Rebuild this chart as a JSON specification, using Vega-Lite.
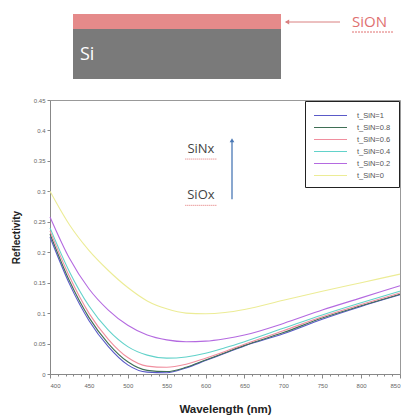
{
  "$schema": "https://vega.github.io/schema/vega-lite/v6.json",
  "padding": {"left": 10, "top": 5, "right": 2, "bottom": 3},
  "spacing": 1,
  "background": "white",
  "config": {"font": "Liberation Sans"},
  "resolve": {"scale": {"color": "independent", "x": "independent", "y": "independent"}},
  "datasets": {
    "refl": [
      {"wl":400,"R":0.225,"s":"t_SiN=1"},{"wl":425,"R":0.148,"s":"t_SiN=1"},{"wl":450,"R":0.088,"s":"t_SiN=1"},{"wl":475,"R":0.045,"s":"t_SiN=1"},{"wl":500,"R":0.015,"s":"t_SiN=1"},{"wl":525,"R":0.003,"s":"t_SiN=1"},{"wl":550,"R":0.002,"s":"t_SiN=1"},{"wl":575,"R":0.010,"s":"t_SiN=1"},{"wl":600,"R":0.022,"s":"t_SiN=1"},{"wl":625,"R":0.034,"s":"t_SiN=1"},{"wl":650,"R":0.046,"s":"t_SiN=1"},{"wl":700,"R":0.066,"s":"t_SiN=1"},{"wl":750,"R":0.090,"s":"t_SiN=1"},{"wl":800,"R":0.111,"s":"t_SiN=1"},{"wl":850,"R":0.130,"s":"t_SiN=1"},
      {"wl":400,"R":0.230,"s":"t_SiN=0.8"},{"wl":425,"R":0.153,"s":"t_SiN=0.8"},{"wl":450,"R":0.093,"s":"t_SiN=0.8"},{"wl":475,"R":0.050,"s":"t_SiN=0.8"},{"wl":500,"R":0.020,"s":"t_SiN=0.8"},{"wl":525,"R":0.006,"s":"t_SiN=0.8"},{"wl":550,"R":0.004,"s":"t_SiN=0.8"},{"wl":575,"R":0.011,"s":"t_SiN=0.8"},{"wl":600,"R":0.023,"s":"t_SiN=0.8"},{"wl":625,"R":0.035,"s":"t_SiN=0.8"},{"wl":650,"R":0.047,"s":"t_SiN=0.8"},{"wl":700,"R":0.068,"s":"t_SiN=0.8"},{"wl":750,"R":0.092,"s":"t_SiN=0.8"},{"wl":800,"R":0.112,"s":"t_SiN=0.8"},{"wl":850,"R":0.131,"s":"t_SiN=0.8"},
      {"wl":400,"R":0.235,"s":"t_SiN=0.6"},{"wl":425,"R":0.160,"s":"t_SiN=0.6"},{"wl":450,"R":0.100,"s":"t_SiN=0.6"},{"wl":475,"R":0.057,"s":"t_SiN=0.6"},{"wl":500,"R":0.027,"s":"t_SiN=0.6"},{"wl":525,"R":0.013,"s":"t_SiN=0.6"},{"wl":550,"R":0.011,"s":"t_SiN=0.6"},{"wl":575,"R":0.016,"s":"t_SiN=0.6"},{"wl":600,"R":0.026,"s":"t_SiN=0.6"},{"wl":625,"R":0.037,"s":"t_SiN=0.6"},{"wl":650,"R":0.049,"s":"t_SiN=0.6"},{"wl":700,"R":0.071,"s":"t_SiN=0.6"},{"wl":750,"R":0.094,"s":"t_SiN=0.6"},{"wl":800,"R":0.114,"s":"t_SiN=0.6"},{"wl":850,"R":0.133,"s":"t_SiN=0.6"},
      {"wl":400,"R":0.240,"s":"t_SiN=0.4"},{"wl":425,"R":0.168,"s":"t_SiN=0.4"},{"wl":450,"R":0.112,"s":"t_SiN=0.4"},{"wl":475,"R":0.072,"s":"t_SiN=0.4"},{"wl":500,"R":0.045,"s":"t_SiN=0.4"},{"wl":525,"R":0.031,"s":"t_SiN=0.4"},{"wl":550,"R":0.026,"s":"t_SiN=0.4"},{"wl":575,"R":0.028,"s":"t_SiN=0.4"},{"wl":600,"R":0.034,"s":"t_SiN=0.4"},{"wl":625,"R":0.043,"s":"t_SiN=0.4"},{"wl":650,"R":0.053,"s":"t_SiN=0.4"},{"wl":700,"R":0.075,"s":"t_SiN=0.4"},{"wl":750,"R":0.097,"s":"t_SiN=0.4"},{"wl":800,"R":0.117,"s":"t_SiN=0.4"},{"wl":850,"R":0.136,"s":"t_SiN=0.4"},
      {"wl":400,"R":0.258,"s":"t_SiN=0.2"},{"wl":425,"R":0.190,"s":"t_SiN=0.2"},{"wl":450,"R":0.140,"s":"t_SiN=0.2"},{"wl":475,"R":0.105,"s":"t_SiN=0.2"},{"wl":500,"R":0.080,"s":"t_SiN=0.2"},{"wl":525,"R":0.064,"s":"t_SiN=0.2"},{"wl":550,"R":0.056,"s":"t_SiN=0.2"},{"wl":575,"R":0.053,"s":"t_SiN=0.2"},{"wl":600,"R":0.054,"s":"t_SiN=0.2"},{"wl":625,"R":0.058,"s":"t_SiN=0.2"},{"wl":650,"R":0.064,"s":"t_SiN=0.2"},{"wl":700,"R":0.083,"s":"t_SiN=0.2"},{"wl":750,"R":0.105,"s":"t_SiN=0.2"},{"wl":800,"R":0.125,"s":"t_SiN=0.2"},{"wl":850,"R":0.145,"s":"t_SiN=0.2"},
      {"wl":400,"R":0.300,"s":"t_SiN=0"},{"wl":425,"R":0.245,"s":"t_SiN=0"},{"wl":450,"R":0.203,"s":"t_SiN=0"},{"wl":475,"R":0.170,"s":"t_SiN=0"},{"wl":500,"R":0.142,"s":"t_SiN=0"},{"wl":525,"R":0.120,"s":"t_SiN=0"},{"wl":550,"R":0.107,"s":"t_SiN=0"},{"wl":575,"R":0.100,"s":"t_SiN=0"},{"wl":600,"R":0.099,"s":"t_SiN=0"},{"wl":625,"R":0.101,"s":"t_SiN=0"},{"wl":650,"R":0.106,"s":"t_SiN=0"},{"wl":700,"R":0.121,"s":"t_SiN=0"},{"wl":750,"R":0.136,"s":"t_SiN=0"},{"wl":800,"R":0.150,"s":"t_SiN=0"},{"wl":850,"R":0.164,"s":"t_SiN=0"}
    ]
  },
  "vconcat": [
    {
      "width": 350,
      "height": 90,
      "view": {"stroke": null},
      "layer": [
        {
          "data": {"values": [{"layer": "SiON", "x1": 23, "x2": 231, "y1": 66, "y2": 81}]},
          "mark": {"type": "rect", "color": "#e58a8a"},
          "encoding": {
            "x": {"field": "x1", "type": "quantitative", "scale": {"domain": [0, 350]}, "axis": null},
            "x2": {"field": "x2"},
            "y": {"field": "y1", "type": "quantitative", "scale": {"domain": [0, 90]}, "axis": null},
            "y2": {"field": "y2"}
          }
        },
        {
          "data": {"values": [{"layer": "Si", "x1": 23, "x2": 231, "y1": 16, "y2": 66}]},
          "mark": {"type": "rect", "color": "#7a7a7a"},
          "encoding": {
            "x": {"field": "x1", "type": "quantitative"},
            "x2": {"field": "x2"},
            "y": {"field": "y1", "type": "quantitative"},
            "y2": {"field": "y2"}
          }
        },
        {
          "data": {"values": [{"label": "Si", "x": 30, "y": 40}]},
          "mark": {"type": "text", "align": "left", "baseline": "middle", "color": "white", "fontSize": 18, "font": "Open Sans"},
          "encoding": {
            "x": {"field": "x", "type": "quantitative"},
            "y": {"field": "y", "type": "quantitative"},
            "text": {"field": "label"}
          }
        },
        {
          "data": {"values": [{"x": 236, "x2": 290, "y": 73}]},
          "mark": {"type": "rule", "color": "#d98080", "strokeWidth": 1},
          "encoding": {
            "x": {"field": "x", "type": "quantitative"},
            "x2": {"field": "x2"},
            "y": {"field": "y", "type": "quantitative"}
          }
        },
        {
          "data": {"values": [{"x": 237, "y": 73}]},
          "mark": {"type": "point", "shape": "triangle-left", "filled": true, "size": 25, "color": "#d98080", "opacity": 1},
          "encoding": {
            "x": {"field": "x", "type": "quantitative"},
            "y": {"field": "y", "type": "quantitative"}
          }
        },
        {
          "data": {"values": [{"label": "SiON", "x": 302, "y": 73}]},
          "mark": {"type": "text", "align": "left", "baseline": "middle", "color": "#e07070", "fontSize": 15, "font": "Open Sans"},
          "encoding": {
            "x": {"field": "x", "type": "quantitative"},
            "y": {"field": "y", "type": "quantitative"},
            "text": {"field": "label"}
          }
        },
        {
          "data": {"values": [{"x": 302, "x2": 344, "y": 63}]},
          "mark": {"type": "rule", "color": "#e07070", "strokeWidth": 1, "strokeDash": [2, 1]},
          "encoding": {
            "x": {"field": "x", "type": "quantitative"},
            "x2": {"field": "x2"},
            "y": {"field": "y", "type": "quantitative"}
          }
        }
      ]
    },
    {
      "width": 350,
      "height": 274,
      "view": {"stroke": "#999999", "strokeWidth": 1},
      "layer": [
        {
          "data": {"name": "refl"},
          "mark": {"type": "line", "interpolate": "monotone", "strokeWidth": 1.1},
          "encoding": {
            "x": {
              "field": "wl", "type": "quantitative",
              "scale": {"domain": [400, 850], "nice": false},
              "axis": {
                "title": "Wavelength (nm)",
                "titleFontSize": 11.5, "titleFontWeight": "bold", "titleColor": "#222", "titlePadding": 15,
                "values": [400,410,420,430,440,450,460,470,480,490,500,510,520,530,540,550,560,570,580,590,600,610,620,630,640,650,660,670,680,690,700,710,720,730,740,750,760,770,780,790,800,810,820,830,840,850],
                "tickCount": 200,
                "labelExpr": "datum.value % 50 === 0 ? datum.label : ''",
                "labelOverlap": false,
                "labelFlush": true,
                "labelFontSize": 6, "labelColor": "#666", "labelPadding": 4,
                "tickSize": {"condition": {"test": "datum.value % 50 === 0", "value": 4}, "value": 2},
                "tickColor": "#888", "domainColor": "#888", "grid": false
              }
            },
            "y": {
              "field": "R", "type": "quantitative",
              "scale": {"domain": [0, 0.45], "nice": false},
              "axis": {
                "title": "Reflectivity",
                "titleFontSize": 10, "titleFontWeight": "bold", "titleColor": "#222", "titlePadding": 12,
                "values": [0, 0.05, 0.1, 0.15, 0.2, 0.25, 0.3, 0.35, 0.4, 0.45],
                "tickCount": 50,
                "format": ".2~f",
                "labelOverlap": false,
                "labelFontSize": 6, "labelColor": "#666", "tickSize": 3,
                "tickColor": "#888", "domainColor": "#888", "grid": false
              }
            },
            "color": {
              "field": "s", "type": "nominal",
              "scale": {
                "domain": ["t_SiN=1", "t_SiN=0.8", "t_SiN=0.6", "t_SiN=0.4", "t_SiN=0.2", "t_SiN=0"],
                "range": ["#5a5ac8", "#3f6f55", "#f08e9e", "#62d2ca", "#b46ae0", "#ecec96"]
              },
              "legend": {
                "title": null,
                "orient": "top-right",
                "offset": 1,
                "strokeColor": "#222",
                "fillColor": "white",
                "padding": 8,
                "symbolType": "M-1,0H5",
                "symbolSize": 121,
                "symbolStrokeWidth": 1.2,
                "labelFontSize": 7.5,
                "labelColor": "#555",
                "rowPadding": 2,
                "labelOffset": 31
              }
            }
          }
        },
        {
          "data": {"values": [{"x": 634, "y1": 0.287, "y2": 0.381}]},
          "mark": {"type": "rule", "color": "#4a78b5", "strokeWidth": 1.3},
          "encoding": {
            "x": {"field": "x", "type": "quantitative"},
            "y": {"field": "y1", "type": "quantitative"},
            "y2": {"field": "y2"}
          }
        },
        {
          "data": {"values": [{"x": 634, "y": 0.384}]},
          "mark": {"type": "point", "shape": "triangle-up", "filled": true, "size": 22, "color": "#4a78b5", "opacity": 1},
          "encoding": {
            "x": {"field": "x", "type": "quantitative"},
            "y": {"field": "y", "type": "quantitative"}
          }
        },
        {
          "data": {"values": [{"label": "SiNx", "x": 594, "y": 0.37}, {"label": "SiOx", "x": 594, "y": 0.294}]},
          "mark": {"type": "text", "align": "center", "baseline": "middle", "color": "#444", "fontSize": 13, "font": "Open Sans"},
          "encoding": {
            "x": {"field": "x", "type": "quantitative"},
            "y": {"field": "y", "type": "quantitative"},
            "text": {"field": "label"}
          }
        },
        {
          "data": {"values": [{"x": 574, "x2": 614, "y": 0.353}, {"x": 574, "x2": 614, "y": 0.277}]},
          "mark": {"type": "rule", "color": "#e07070", "strokeWidth": 1, "strokeDash": [1, 1]},
          "encoding": {
            "x": {"field": "x", "type": "quantitative"},
            "x2": {"field": "x2"},
            "y": {"field": "y", "type": "quantitative"}
          }
        }
      ]
    }
  ]
}
